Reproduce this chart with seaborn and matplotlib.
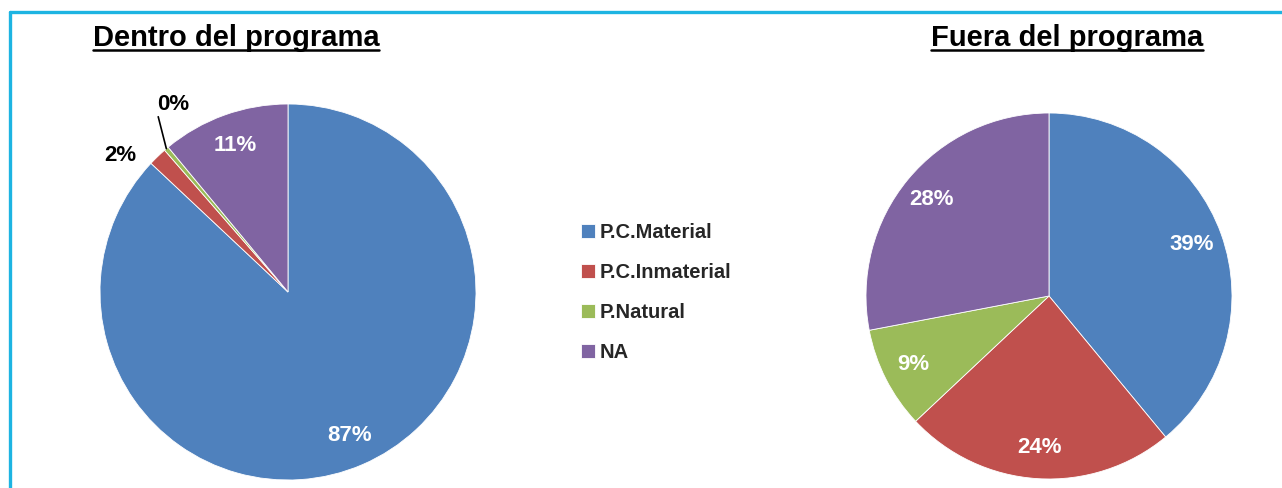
"""Two pie charts: heritage categories inside / outside the programme."""

import matplotlib
matplotlib.use("Agg")
import matplotlib.pyplot as plt
import numpy as np
import seaborn as sns
from matplotlib.lines import Line2D

# --- data -------------------------------------------------------------
categories = ["P.C.Material", "P.C.Inmaterial", "P.Natural", "NA"]
dentro_values = [87.0, 1.6, 0.4, 11.0]
fuera_values = [39.0, 24.0, 9.0, 28.0]
titles = ["Dentro del programa", "Fuera del programa"]

colors = sns.color_palette(["#4F81BD", "#C0504D", "#9BBB59", "#8064A2"])
border_color = "#1DB4E2"

sns.set_theme(style="white")
plt.rcParams["font.family"] = ["Liberation Sans", "DejaVu Sans"]

W, H = 1282, 488
fig = plt.figure(figsize=(W / 100, H / 100), dpi=100)
fig.patch.set_facecolor("white")


def px_axes(cx, cy, r):
    """Axes whose square box is centred on pixel (cx, cy) with half-size r."""
    return fig.add_axes([(cx - r) / W, (H - cy - r) / H, 2 * r / W, 2 * r / H])


def draw_pie(ax, values):
    wedges, texts, autotexts = ax.pie(
        values, colors=colors, startangle=90, counterclock=False,
        autopct="%.0f%%", pctdistance=0.83, radius=1.0,
        wedgeprops=dict(edgecolor="white", linewidth=0.6),
        textprops=dict(color="white", fontsize=16, fontweight="bold"),
    )
    ax.set_xlim(-1, 1)
    ax.set_ylim(-1, 1)
    ax.set_aspect("equal")
    ax.axis("off")
    return wedges, autotexts


# left pie
ax1 = px_axes(288, 292, 188)
w1, at1 = draw_pie(ax1, dentro_values)
# small slices get black labels outside the pie
mid = np.deg2rad((w1[1].theta1 + w1[1].theta2) / 2 + 7)
at1[1].set_color("black")
at1[1].set_position((1.15 * np.cos(mid), 1.15 * np.sin(mid)))

mid = np.deg2rad((w1[2].theta1 + w1[2].theta2) / 2)
end = np.deg2rad((w1[2].theta1 + w1[2].theta2) / 2 - 3.8)
ax1.add_line(Line2D([np.cos(mid), 1.16 * np.cos(end)],
                    [np.sin(mid), 1.16 * np.sin(end)],
                    color="black", linewidth=1.2, clip_on=False))
at1[2].set_color("black")
at1[2].set_position((1.16 * np.cos(end) + 0.08, 1.16 * np.sin(end) + 0.01))
at1[2].set_va("bottom")

# right pie
ax2 = px_axes(1049, 296, 183)
draw_pie(ax2, fuera_values)

# legend
fig.legend(w1, categories, loc="upper left",
           bbox_to_anchor=(581 / W, 1 - 223 / H), frameon=False,
           prop=dict(weight="bold", size=14.5),
           handlelength=0.68, handleheight=0.68, handletextpad=0.25,
           labelspacing=1.04, borderpad=0, borderaxespad=0)

# titles with underline
title_objs = []
for cx, t in zip([236, 1067], titles):
    title_objs.append(fig.text(cx / W, 1 - 46 / H, t, ha="center",
                               va="baseline", fontsize=21, fontweight="bold",
                               color="black"))
fig.canvas.draw()
renderer = fig.canvas.get_renderer()
for t in title_objs:
    bb = t.get_window_extent(renderer)
    y = 1 - 50 / H
    fig.add_artist(Line2D([bb.x0 / W, bb.x1 / W], [y, y], color="black",
                          linewidth=1.8, transform=fig.transFigure))

# frame lines (top and left)
fig.add_artist(Line2D([10 / W, 1], [1 - 12 / H, 1 - 12 / H], color=border_color,
                      linewidth=2.4, transform=fig.transFigure))
fig.add_artist(Line2D([10 / W, 10 / W], [0, 1 - 12 / H], color=border_color,
                      linewidth=2.4, transform=fig.transFigure))

fig.savefig("out.png", dpi=100, facecolor="white")
